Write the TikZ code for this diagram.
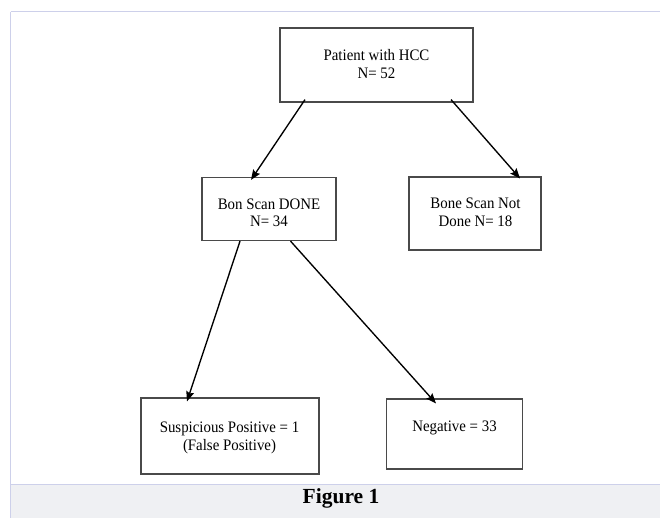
\documentclass[tikz,border=0pt]{standalone}
\usepackage{fontspec}
\setmainfont{Liberation Serif}
\newfontfamily\boxfont[FakeStretch=0.93]{Liberation Serif}
\usetikzlibrary{arrows.meta}
\definecolor{framec}{HTML}{CDD0EA}
\definecolor{capfill}{HTML}{EFF0F3}
\definecolor{boxc}{HTML}{4A4A4A}
\begin{document}
\begin{tikzpicture}[x=1pt,y=-1pt,
  box/.style={draw=boxc,line width=1.2pt,inner sep=0pt},
  txt/.style={align=center,inner sep=0pt,font=\boxfont\fontsize{16}{17.5}\selectfont},
  conn/.style={line width=1.35pt,-{Stealth[length=10pt,width=8pt,inset=1.5pt]}}]
\useasboundingbox (0,0) rectangle (660,518);
\fill[white] (0,0) rectangle (660,518);
% frame and caption band
\fill[capfill] (10.5,484.5) rectangle (660,518);
\draw[framec,line width=1pt] (10.5,12) -- (660,12);
\draw[framec,line width=1.6pt] (10.5,12) -- (10.5,518);
\draw[framec,line width=1pt] (11,484.5) -- (660,484.5);
\node[font=\fontsize{21.5}{24}\selectfont\bfseries] (cap) at (341,498) {Figure 1};
% boxes
\node[box,minimum width=193pt,minimum height=74pt] (top) at (376.5,65) {};
\node[txt] (t1) at (376.5,64) {Patient with HCC\\N= 52};
\node[box,minimum width=134pt,minimum height=63pt] (bon) at (269,209) {};
\node[txt] (b1) at (269,213) {Bon Scan DONE\\N= 34};
\node[box,minimum width=132pt,minimum height=73pt] (not) at (475,213.5) {};
\node[txt] (n1) at (475.5,212.5) {Bone Scan Not\\Done N= 18};
\node[box,minimum width=178pt,minimum height=76pt] (sus) at (230,436) {};
\node[txt] (s1) at (229.5,438) {Suspicious Positive = 1\\(False Positive)};
\node[box,minimum width=136pt,minimum height=70pt] (neg) at (454.5,434) {};
\node[txt] (g1) at (454.5,428) {Negative = 33};
% connectors
\draw[conn] ([xshift=-71.5pt,yshift=3pt]top.south) -- ([xshift=-18pt,yshift=-3pt]bon.north);
\draw[conn] ([xshift=74.5pt,yshift=3pt]top.south) -- ([xshift=45pt,yshift=-2pt]not.north);
\draw[conn] ([xshift=-29pt]bon.south) -- ([xshift=-43pt,yshift=-4pt]sus.north);
\draw[conn] ([xshift=21.5pt]bon.south) -- ([xshift=-18.5pt,yshift=-5pt]neg.north);
\end{tikzpicture}
\end{document}
